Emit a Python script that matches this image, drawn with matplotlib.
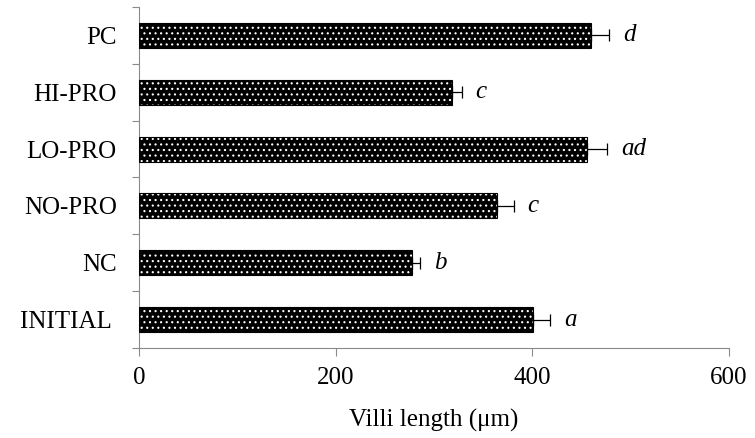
import matplotlib
matplotlib.use('Agg')
import matplotlib.pyplot as plt
import numpy as np

# bottom to top, as drawn
groups = ['INITIAL ', 'NC', 'NO-PRO', 'LO-PRO', 'HI-PRO', 'PC']
villi = [401, 278, 364, 456, 318, 460]
villi_se = [17, 8, 17, 20, 10, 18]
letters = ['a', 'b', 'c', 'ad', 'c', 'd']

plt.rcParams['font.family'] = ['Liberation Serif', 'DejaVu Serif']
plt.rcParams['hatch.linewidth'] = 0.8
axis_grey = '#8a8a8a'
fs = 18

fig = plt.figure(figsize=(7.55, 4.38), dpi=100)
ax = fig.add_axes([0.1841, 0.2055, 0.7815, 0.7785])

y = np.arange(len(groups))
# black bars with white dotted pattern (hatch colour follows edgecolor)
ax.barh(y, villi, height=0.44, color='black', edgecolor='white', hatch='...', linewidth=0, zorder=2)
ax.barh(y, villi, height=0.44, color='none', edgecolor='black', linewidth=0.8, zorder=3)
ax.errorbar(villi, y, xerr=[np.zeros(len(villi)), villi_se], fmt='none', ecolor='black',
            elinewidth=0.9, capsize=4.5, capthick=0.9, zorder=4)

for i in range(len(groups)):
    ax.annotate(letters[i], (villi[i] + villi_se[i], y[i]), xytext=(10, 0), textcoords='offset points',
                ha='left', va='center', fontsize=fs, style='italic')

ax.set_xlim(0, 600)
ax.set_ylim(-0.5, len(groups) - 0.5)
ax.set_xticks([0, 200, 400, 600])
ax.tick_params(axis='x', direction='out', length=6, width=0.8, color=axis_grey, labelsize=fs, pad=8)
ax.set_yticks(y)
ax.set_yticklabels(groups)
ax.set_yticks(np.arange(-0.5, len(groups), 1.0), minor=True)
ax.tick_params(axis='y', which='major', length=0, labelsize=fs, pad=16)
ax.tick_params(axis='y', which='minor', direction='out', length=5, width=0.8, color=axis_grey)

for s in ['top', 'right']:
    ax.spines[s].set_visible(False)
for s in ['left', 'bottom']:
    ax.spines[s].set_color(axis_grey)
    ax.spines[s].set_linewidth(0.8)

ax.set_xlabel('Villi length (\u03bcm)', fontsize=fs, labelpad=14)

fig.savefig('out.png', dpi=100)
